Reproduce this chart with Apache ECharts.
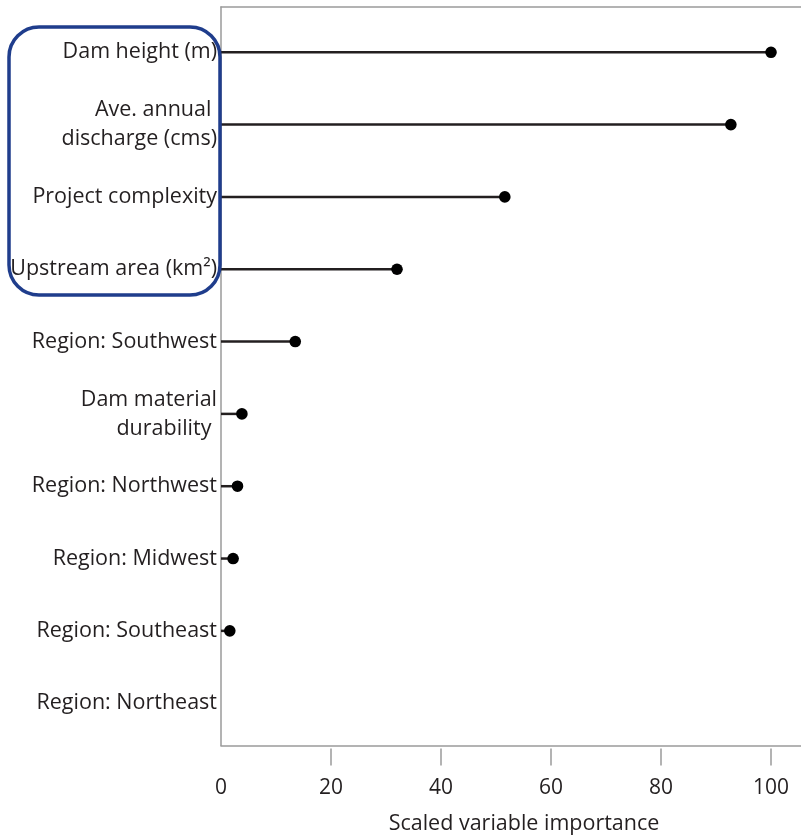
<!DOCTYPE html>
<html>
<head>
<meta charset="utf-8">
<style>
  html, body { margin: 0; padding: 0; background: #ffffff; }
  #chart { width: 801px; height: 835px; }
</style>
<script src="https://cdn.jsdelivr.net/npm/echarts@6/dist/echarts.min.js"></script>
</head>
<body>
<div id="chart"></div>
<script>
// Predictor names, top to bottom
const categories = [
  'Dam height (m)',
  'Ave. annual \ndischarge (cms)',
  'Project complexity',
  'Upstream area (km²)',
  'Region: Southwest',
  'Dam material\ndurability ',
  'Region: Northwest',
  'Region: Midwest',
  'Region: Southeast',
  'Region: Northeast'
];
// Scaled variable importance for each predictor (Northeast has no mark)
const importance = [100, 92.7, 51.6, 32, 13.5, 3.8, 3.0, 2.2, 1.6, null];
// Tick labels along the importance axis
const xTickLabels = [0, 20, 40, 60, 80, 100];
const xTickMarks = [20, 40, 60, 80, 100];

const FONT = '"Open Sans", "DejaVu Sans", sans-serif';
const INK = '#231f20';
const AXIS_GREY = '#9a9a9a';
const X_MAX = 105.45;

const points = [];
importance.forEach((v, i) => { if (v !== null) points.push([v, i]); });

const chart = echarts.init(document.getElementById('chart'), null, { renderer: 'canvas' });

const option = {
  backgroundColor: '#ffffff',
  animation: false,
  grid: { left: 221, right: 0, top: 7, bottom: 89.5, containLabel: false, outerBoundsMode: 'none' },
  xAxis: [
    {
      // bottom frame line
      type: 'value', min: 0, max: X_MAX, position: 'bottom',
      axisLine: { show: true, onZero: false, lineStyle: { color: AXIS_GREY, width: 1.5 } },
      axisTick: { show: false }, axisLabel: { show: false }, splitLine: { show: false }
    },
    {
      // detached ticks, labels and title
      type: 'value', min: 0, max: X_MAX, position: 'bottom', offset: 3,
      axisLine: { show: false, onZero: false },
      axisTick: { show: true, length: 17, customValues: xTickMarks, lineStyle: { color: AXIS_GREY, width: 1.5 } },
      axisLabel: { show: true, customValues: xTickLabels, margin: 29, color: INK, fontFamily: FONT, fontSize: 21 },
      splitLine: { show: false },
      name: 'Scaled variable importance', nameLocation: 'middle', nameGap: 64.5,
      nameTextStyle: { color: INK, fontFamily: FONT, fontSize: 21.5, padding: [0, 0, 0, 26] }
    },
    {
      // top frame line
      type: 'value', min: 0, max: X_MAX, position: 'top',
      axisLine: { show: true, onZero: false, lineStyle: { color: AXIS_GREY, width: 1.5 } },
      axisTick: { show: false }, axisLabel: { show: false }, splitLine: { show: false }
    }
  ],
  yAxis: {
    type: 'value', inverse: true, min: -0.626, max: 9.585,
    axisLine: { show: true, onZero: false, lineStyle: { color: AXIS_GREY, width: 1.5 } },
    axisTick: { show: false },
    splitLine: { show: false },
    axisLabel: {
      show: true, customValues: categories.map((c, i) => i), margin: 4,
      formatter: (v) => categories[Math.round(v)],
      color: INK, fontFamily: FONT, fontSize: 21.5, lineHeight: 29, align: 'right'
    }
  },
  series: [{
    type: 'custom',
    xAxisIndex: 0,
    data: points,
    encode: { x: 0, y: 1 },
    renderItem: (params, api) => {
      const v = api.value(0), idx = api.value(1);
      const a = api.coord([0, idx]);
      const b = api.coord([v, idx]);
      return {
        type: 'group',
        children: [
          { type: 'line', shape: { x1: a[0], y1: a[1], x2: b[0], y2: b[1] },
            style: { stroke: INK, lineWidth: 2.5 } },
          { type: 'circle', shape: { cx: b[0], cy: b[1], r: 5.8 },
            style: { fill: '#000000' } }
        ]
      };
    }
  }],
  graphic: [{
    // highlight box around the four leading predictors
    type: 'rect', z: 100,
    shape: { x: 9, y: 27, width: 211, height: 268, r: 30 },
    style: { fill: 'none', stroke: '#1f3d8c', lineWidth: 3.5 }
  }]
};

chart.setOption(option);
</script>
</body>
</html>
